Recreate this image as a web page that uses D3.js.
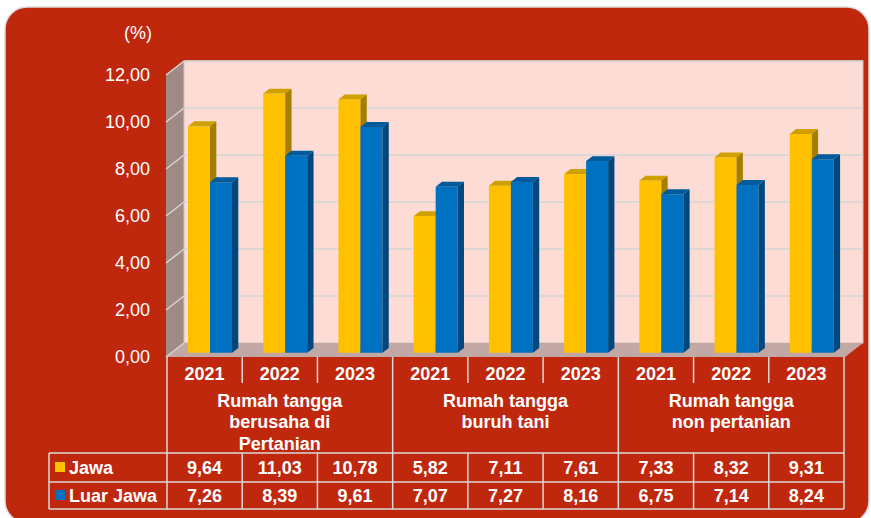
<!DOCTYPE html>
<html>
<head>
<meta charset="utf-8">
<script src="https://cdn.jsdelivr.net/npm/d3@7"></script>
<style>
  body { margin: 0; background: #fff; }
  text { font-family: "Liberation Sans", Arial, sans-serif; fill: #fff; }
</style>
</head>
<body>
<script>
// data
var groups = [["Rumah tangga", "berusaha di", "Pertanian"], ["Rumah tangga", "buruh tani"], ["Rumah tangga", "non pertanian"]]
var years = ["2021", "2022", "2023"]
var seriesNames = ["Jawa", "Luar Jawa"]
var jawa = [9.64, 11.03, 10.78, 5.82, 7.11, 7.61, 7.33, 8.32, 9.31]
var luarJawa = [7.26, 8.39, 9.61, 7.07, 7.27, 8.16, 6.75, 7.14, 8.24]
var yTicks = [0, 2, 4, 6, 8, 10, 12]

var width = 871, height = 518

var locale = d3.formatLocale({decimal: ",", thousands: ".", grouping: [3], currency: ["", ""]})
var fmt = locale.format(".2f")

var colors = {
    "Jawa": {front: "#FFC000", top: "#CFA000", side: "#A57E00"},
    "Luar Jawa": {front: "#0070C0", top: "#005A9C", side: "#00477E"}
}

var svg = d3.select("body").append("svg")
    .attr("width", width)
    .attr("height", height)

// red panel
svg.append("rect")
    .attr("x", 5).attr("y", 7)
    .attr("width", 864).attr("height", 516)
    .attr("rx", 22)
    .attr("fill", "#C0280E")
    .attr("stroke", "#dcdcdc")
    .attr("stroke-width", 1.5)

// columns: one per (group, year)
var cols = []
groups.forEach(function(g, gi){
    years.forEach(function(yr){ cols.push(gi + "-" + yr) })
})

var left = 167, right = 844
var x0 = d3.scaleBand().domain(cols).range([left, right])
var x1 = d3.scaleBand().domain(seriesNames).range([0, x0.bandwidth()]).paddingOuter(0.71)
var y = d3.scaleLinear().domain([0, 12]).range([357, 75])

// depth
var DX = 18, DY = -14
function proj(x, v, z){ return [x + DX * z, y(v) + DY * z] }
function poly(pts){ return pts.map(function(p){ return p.join(",") }).join(" ") }

// side wall
svg.append("polygon")
    .attr("points", poly([proj(left - 1, 0, 0), proj(left - 1, 0, 1), proj(left - 1, 12, 1), proj(left - 1, 12, 0)]))
    .attr("fill", "#A08A86")

// back wall
var bw0 = proj(left - 1, 12, 1), bw1 = proj(right + 1, 0, 1)
svg.append("rect")
    .attr("x", bw0[0]).attr("y", bw0[1])
    .attr("width", bw1[0] - bw0[0]).attr("height", bw1[1] - bw0[1])
    .attr("fill", "#FCDCD4")
    .attr("stroke", "#cfc4c1")
    .attr("stroke-width", 1)

// floor
svg.append("polygon")
    .attr("points", poly([proj(left - 1, 0, 0), proj(left - 1, 0, 1), proj(right + 1, 0, 1), proj(right + 1, 0, 0)]))
    .attr("fill", "#C2A8A4")

// gridlines
var grid = svg.append("g")
grid.selectAll("line.back")
    .data(yTicks.filter(function(t){ return t > 0 }))
    .enter().append("line")
    .attr("class", "back")
    .attr("x1", function(d){ return proj(left - 1, d, 1)[0] })
    .attr("x2", function(d){ return proj(right + 1, d, 1)[0] })
    .attr("y1", function(d){ return proj(left, d, 1)[1] })
    .attr("y2", function(d){ return proj(left, d, 1)[1] })
    .attr("stroke", "#d6d6d6")
    .attr("stroke-width", 1.5)
grid.selectAll("line.side")
    .data(yTicks)
    .enter().append("line")
    .attr("class", "side")
    .attr("x1", function(d){ return proj(left - 1, d, 0)[0] })
    .attr("x2", function(d){ return proj(left - 1, d, 1)[0] })
    .attr("y1", function(d){ return proj(left, d, 0)[1] })
    .attr("y2", function(d){ return proj(left, d, 1)[1] })
    .attr("stroke", "#d6d6d6")
    .attr("stroke-width", 1.5)

// y axis labels
var yAxis = d3.axisLeft(y).tickValues(yTicks).tickSize(0).tickPadding(0).tickFormat(fmt)
var ax = svg.append("g").attr("transform", "translate(150,0)").call(yAxis)
ax.select(".domain").remove()
ax.selectAll("text")
    .attr("font-size", 18)
    .attr("font-family", "Liberation Sans, Arial, sans-serif")
    .style("fill", "#fff")

svg.append("text")
    .attr("x", 138).attr("y", 39)
    .attr("text-anchor", "middle")
    .attr("font-size", 18)
    .text("(%)")

// bars (front at z=0.3, back at z=0.65)
var zf = 0.3, zb = 0.65
var barData = []
cols.forEach(function(c, i){
    barData.push({col: c, s: "Jawa", v: jawa[i]})
    barData.push({col: c, s: "Luar Jawa", v: luarJawa[i]})
})

var bars = svg.append("g").selectAll("g")
    .data(barData)
    .enter().append("g")

bars.each(function(d){
    var g = d3.select(this)
    var xa = x0(d.col) + x1(d.s), xb = xa + x1.bandwidth()
    var c = colors[d.s]
    g.append("polygon")
        .attr("points", poly([proj(xa, 0, zf), proj(xb, 0, zf), proj(xb, d.v, zf), proj(xa, d.v, zf)]))
        .attr("fill", c.front)
    g.append("polygon")
        .attr("points", poly([proj(xa, d.v, zf), proj(xb, d.v, zf), proj(xb, d.v, zb), proj(xa, d.v, zb)]))
        .attr("fill", c.top)
    g.append("polygon")
        .attr("points", poly([proj(xb, 0, zf), proj(xb, 0, zb), proj(xb, d.v, zb), proj(xb, d.v, zf)]))
        .attr("fill", c.side)
})

// table
var lineColor = "#d9d9d9"
var rowYear = [357, 383], rowHead = [383, 453], row1 = [453, 482], row2 = [482, 509]
var legLeft = 49
var table = svg.append("g")

function hline(x1p, x2p, yy){
    table.append("line").attr("x1", x1p).attr("x2", x2p).attr("y1", yy).attr("y2", yy)
        .attr("stroke", lineColor).attr("stroke-width", 1.5)
}
function vline(xx, y1p, y2p){
    table.append("line").attr("x1", xx).attr("x2", xx).attr("y1", y1p).attr("y2", y2p)
        .attr("stroke", lineColor).attr("stroke-width", 1.5)
}

// vertical lines for year cells and groups
cols.forEach(function(c, i){
    var xx = x0(c)
    if (i % 3 === 0) vline(xx, rowYear[0], row2[1])
    else vline(xx, rowYear[0], rowYear[1])
})
vline(right, rowYear[0], row2[1])
cols.forEach(function(c, i){
    if (i % 3 !== 0) vline(x0(c), row1[0], row2[1])
})
vline(legLeft, row1[0], row2[1])
hline(legLeft, right, row1[0])
hline(legLeft, right, row2[0])
hline(legLeft, right, row2[1])

// year labels
table.selectAll("text.year")
    .data(cols)
    .enter().append("text")
    .attr("class", "year")
    .attr("x", function(d){ return x0(d) + x0.bandwidth() / 2 })
    .attr("y", 379.5)
    .attr("text-anchor", "middle")
    .attr("font-size", 18)
    .attr("font-weight", "bold")
    .text(function(d){ return d.split("-")[1] })

// group labels
groups.forEach(function(g, gi){
    var cx = (x0(cols[gi * 3]) + x0(cols[gi * 3 + 2]) + x0.bandwidth()) / 2
    table.selectAll(null)
        .data(g)
        .enter().append("text")
        .attr("x", cx)
        .attr("y", function(d, li){ return 406.5 + li * 21.5 })
        .attr("text-anchor", "middle")
        .attr("font-size", 18)
        .attr("font-weight", "bold")
        .text(function(d){ return d })
})

// data rows
var rows = [{s: "Jawa", vals: jawa, r: row1}, {s: "Luar Jawa", vals: luarJawa, r: row2}]
rows.forEach(function(row){
    var cy = (row.r[0] + row.r[1]) / 2
    table.append("rect")
        .attr("x", 55).attr("y", cy - 5.5)
        .attr("width", 10).attr("height", 10)
        .attr("fill", colors[row.s].front)
    table.append("text")
        .attr("x", 69).attr("y", cy + 6.5)
        .attr("font-size", 18)
        .attr("font-weight", "bold")
        .text(row.s)
    table.selectAll(null)
        .data(row.vals)
        .enter().append("text")
        .attr("x", function(d, i){ return x0(cols[i]) + x0.bandwidth() / 2 })
        .attr("y", cy + 6.5)
        .attr("text-anchor", "middle")
        .attr("font-size", 18)
        .attr("font-weight", "bold")
        .text(function(d){ return fmt(d) })
})
</script>
</body>
</html>
